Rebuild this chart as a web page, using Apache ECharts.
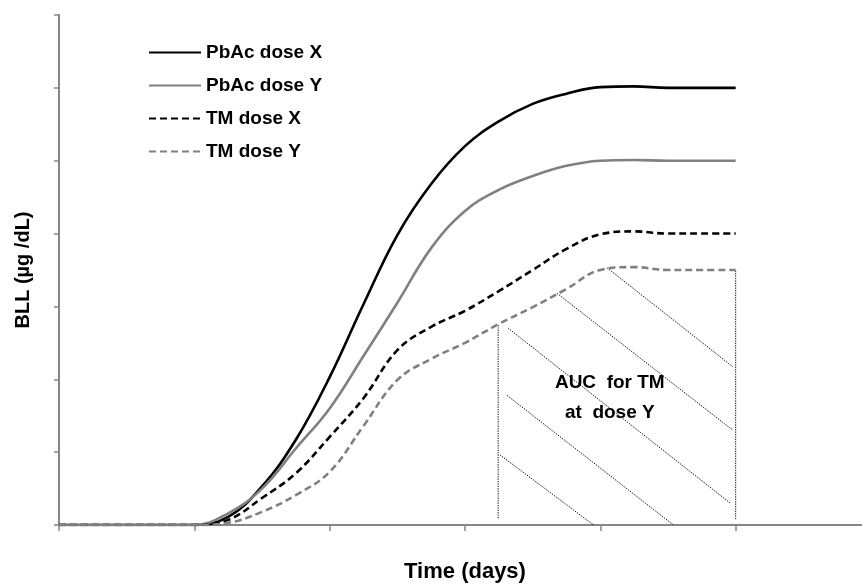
<!DOCTYPE html>
<html><head><meta charset="utf-8">
<script src="https://cdn.jsdelivr.net/npm/echarts@6/dist/echarts.min.js"></script>
<style>html,body{margin:0;padding:0;background:#fff}#c{width:862px;height:584px}</style>
</head><body><div id="c"></div>
<script>
// ---- data ----
const seriesNames = ['PbAc dose X', 'PbAc dose Y', 'TM dose X', 'TM dose Y'];
const time    = [0, 0.5, 1.0, 1.25, 1.5, 1.75, 2.0, 2.25, 2.5, 2.75, 3.0, 3.25, 3.5, 3.75, 4.0, 4.25, 4.5, 4.75, 5.0];
const pbacX   = [0, 0, 0, 0.11, 0.53, 1.17, 2.03, 3.03, 3.98, 4.68, 5.20, 5.54, 5.78, 5.92, 6.01, 6.02, 6.0, 6.0, 6.0];
const pbacY   = [0, 0, 0, 0.16, 0.50, 1.05, 1.60, 2.32, 3.05, 3.80, 4.31, 4.60, 4.79, 4.93, 5.0, 5.01, 5.0, 5.0, 5.0];
const tmX     = [0, 0, 0, 0.07, 0.37, 0.71, 1.21, 1.74, 2.40, 2.72, 2.94, 3.21, 3.50, 3.79, 3.99, 4.03, 4.0, 4.0, 4.0];
const tmY     = [0, 0, 0, 0.03, 0.18, 0.41, 0.73, 1.36, 1.99, 2.28, 2.50, 2.76, 2.99, 3.24, 3.50, 3.54, 3.5, 3.5, 3.5];
const xRange = [0, 6];
const yRange = [0, 7];
// AUC region outline / hatch segments: [[x1, y1], [x2, y2]]
const aucEdges = [
  [[3.245, 2.745], [3.245, 0.08]],
  [[5.0, 3.49], [5.0, 0.08]]
];
const aucHatch = [
  [[3.26, 0.96], [3.95, 0.0]],
  [[3.31, 1.78], [4.54, 0.0]],
  [[3.32, 2.70], [4.96, 0.30]],
  [[3.68, 3.18], [4.98, 1.30]],
  [[4.05, 3.53], [4.98, 2.17]]
];
const aucLabel = ['AUC  for TM', 'at  dose Y'];
const aucLabelPos = [4.07, 1.75];
// ---- styles ----
const FONT = "'Liberation Sans Narrow', 'Liberation Sans', sans-serif";
const styles = [
  { color: '#000000', type: 'solid' },
  { color: '#808080', type: 'solid' },
  { color: '#000000', type: [7, 4] },
  { color: '#808080', type: [7, 4] }
];
const values = [pbacX, pbacY, tmX, tmY];

const mainSeries = seriesNames.map((name, i) => ({
  name, type: 'line', smooth: 0.4, symbol: 'none',
  data: time.map((t, k) => [t, values[i][k]]),
  lineStyle: { color: styles[i].color, width: 2.6, type: styles[i].type },
  itemStyle: { color: styles[i].color },
  z: 3
}));
const segSeries = aucEdges.concat(aucHatch).map(seg => ({
  type: 'line', symbol: 'none', silent: true, data: seg,
  lineStyle: { color: '#000', width: 1, type: [1.2, 1.2] }, z: 2
}));
const labelSeries = {
  type: 'scatter', symbolSize: 0, silent: true, data: [aucLabelPos],
  itemStyle: { opacity: 1 },
  label: { show: true, position: 'inside', formatter: aucLabel.join('\n'),
    fontFamily: FONT, fontWeight: 'bold', fontSize: 19, lineHeight: 30, color: '#000', opacity: 1 },
  z: 4
};

const chart = echarts.init(document.getElementById('c'), null, { renderer: 'canvas' });
chart.setOption({
  animation: false,
  backgroundColor: '#fff',
  grid: { left: 59, right: -9, top: 15, bottom: 59, containLabel: false, outerBoundsMode: 'none' },
  legend: {
    data: seriesNames, orient: 'vertical', left: 148, top: 43, padding: 0,
    itemWidth: 52, itemHeight: 18, itemGap: 14,
    itemStyle: { opacity: 0 },
    textStyle: { fontFamily: FONT, fontWeight: 'bold', fontSize: 19, color: '#000', lineHeight: 18 }
  },
  xAxis: {
    type: 'value', min: xRange[0], max: xRange[1], interval: 1,
    name: 'Time (days)', nameLocation: 'middle', nameGap: 36,
    nameTextStyle: { fontFamily: FONT, fontWeight: 'bold', fontSize: 22, color: '#000' },
    axisLine: { show: true, lineStyle: { color: '#868686', width: 2 } },
    axisTick: { show: true, length: 6, lineStyle: { color: '#868686', width: 1.5 } },
    axisLabel: { show: false }, splitLine: { show: false }
  },
  yAxis: {
    type: 'value', min: yRange[0], max: yRange[1], interval: 1,
    name: 'BLL (µg /dL)', nameLocation: 'middle', nameGap: 26, nameRotate: 90,
    nameTextStyle: { fontFamily: FONT, fontWeight: 'bold', fontSize: 20, color: '#000' },
    axisLine: { show: true, lineStyle: { color: '#868686', width: 2 } },
    axisTick: { show: true, length: 5, lineStyle: { color: '#868686', width: 1.5 } },
    axisLabel: { show: false }, splitLine: { show: false }
  },
  series: segSeries.concat(mainSeries, [labelSeries])
});
</script></body></html>
